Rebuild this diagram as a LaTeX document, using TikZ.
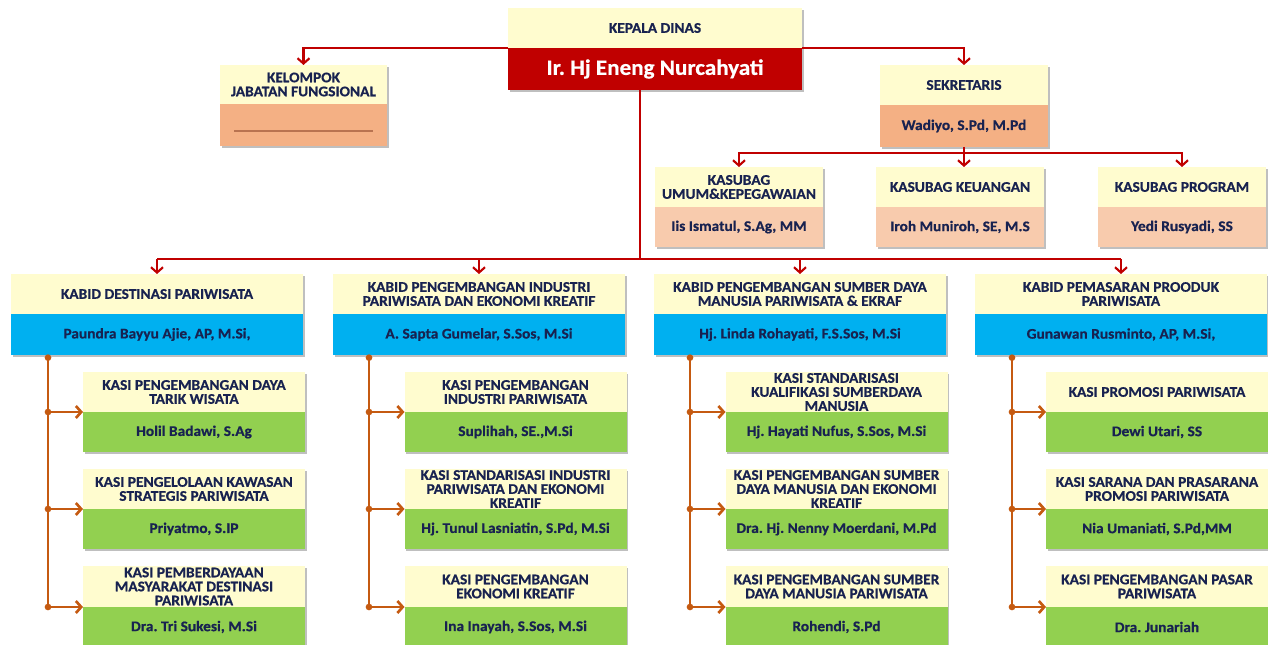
\documentclass[tikz,border=0pt]{standalone}
\usepackage{fontspec}
\newfontfamily\cf{Carlito}[UprightFont=* Bold, BoldFont=* Bold, FakeStretch=1.05, FakeBold=0.6]
\usetikzlibrary{arrows.meta,shadows}
\definecolor{ylw}{RGB}{255,252,207}
\definecolor{dred}{RGB}{192,0,0}
\definecolor{salm}{RGB}{244,176,132}
\definecolor{lsalm}{RGB}{248,203,173}
\definecolor{sky}{RGB}{0,176,240}
\definecolor{grn}{RGB}{146,208,80}
\definecolor{orng}{RGB}{197,90,17}
\definecolor{navy}{RGB}{24,34,80}
\definecolor{kline}{RGB}{185,115,80}
\frenchspacing
\begin{document}
\begin{tikzpicture}[x=0.75pt,y=-0.75pt,
  every node/.style={inner sep=0pt, outer sep=0pt, align=center, text=navy,
    font=\cf\fontsize{11}{10.5}\selectfont},
  bw/.style={minimum width=#1*0.75pt},
  bh/.style={minimum height=#1*0.75pt},
  shad/.style={drop shadow={shadow xshift=1.2pt, shadow yshift=-1.2pt, opacity=0.25, fill=black}},
  tbox/.style={rectangle, fill=ylw, shad},
  pbox/.style={rectangle, shad},
  redline/.style={draw=dred, line width=1.6pt},
  redarr/.style={redline, -{Straight Barb[length=4pt,width=9pt]}},
  orline/.style={draw=orng, line width=2pt},
  orarr/.style={orline, -{Straight Barb[length=4pt,width=9pt]}},
  dot/.style={circle, fill=orng, minimum size=5pt}
]
\path[use as bounding box] (0,0) rectangle (1268,645);

% Kepala Dinas
\node[tbox, bw=294, bh=40] (kdt) at (655,28) {KEPALA DINAS};
\node[pbox, fill=dred, bw=294, bh=42, text=white, font=\cf\fontsize{16.5}{18}\selectfont] (kdn) at (655,69) {Ir. Hj Eneng Nurcahyati};

% Kelompok jabatan fungsional
\node[tbox, bw=167, bh=39] (kjt) at (303.5,84.5) {KELOMPOK\\JABATAN FUNGSIONAL};
\node[pbox, fill=salm, bw=167, bh=42] (kjn) at (303.5,125) {};
\draw[kline, line width=1pt] ([xshift=-52pt,yshift=-4.5pt]kjn.center) -- ([xshift=52pt,yshift=-4.5pt]kjn.center);

% Sekretaris
\node[tbox, bw=168, bh=40] (sekt) at (964,85) {SEKRETARIS};
\node[pbox, fill=salm, bw=168, bh=42] (sekn) at (964,126) {Wadiyo, S.Pd, M.Pd};

% Kasubag
\node[tbox, bw=168, bh=40] (kst1) at (739,187) {KASUBAG\\UMUM\&KEPEGAWAIAN};
\node[pbox, fill=lsalm, bw=168, bh=40] (ksn1) at (739,227) {Iis Ismatul, S.Ag, MM};
\node[tbox, bw=168, bh=40] (kst2) at (960,187) {KASUBAG KEUANGAN};
\node[pbox, fill=lsalm, bw=168, bh=40] (ksn2) at (960,227) {Iroh Muniroh, SE, M.S};
\node[tbox, bw=168, bh=40] (kst3) at (1182,187) {KASUBAG PROGRAM};
\node[pbox, fill=lsalm, bw=168, bh=40] (ksn3) at (1182,227) {Yedi Rusyadi, SS};

% Kabid
\node[tbox, bw=292, bh=40] (kbt1) at (157,294) {KABID DESTINASI PARIWISATA};
\node[pbox, fill=sky, bw=292, bh=41] (kbn1) at (157,334.5) {Paundra Bayyu Ajie, AP, M.Si,};
\node[tbox, bw=292, bh=40] (kbt2) at (479,294) {KABID PENGEMBANGAN INDUSTRI\\PARIWISATA DAN EKONOMI KREATIF};
\node[pbox, fill=sky, bw=292, bh=41] (kbn2) at (479,334.5) {A. Sapta Gumelar, S.Sos, M.Si};
\node[tbox, bw=292, bh=40] (kbt3) at (800,294) {KABID PENGEMBANGAN SUMBER DAYA\\MANUSIA PARIWISATA \& EKRAF};
\node[pbox, fill=sky, bw=292, bh=41] (kbn3) at (800,334.5) {Hj. Linda Rohayati, F.S.Sos, M.Si};
\node[tbox, bw=292, bh=40] (kbt4) at (1121,294) {KABID PEMASARAN PROODUK\\PARIWISATA};
\node[pbox, fill=sky, bw=292, bh=41] (kbn4) at (1121,334.5) {Gunawan Rusminto, AP, M.Si,};

% Kasi column 1
\node[tbox, bw=222, bh=40] (k11t) at (194,392) {KASI PENGEMBANGAN DAYA\\TARIK WISATA};
\node[pbox, fill=grn, bw=222, bh=40] (k11n) at (194,432) {Holil Badawi, S.Ag};
\node[tbox, bw=222, bh=40] (k12t) at (194,489) {KASI PENGELOLAAN KAWASAN\\STRATEGIS PARIWISATA};
\node[pbox, fill=grn, bw=222, bh=40] (k12n) at (194,529) {Priyatmo, S.IP};
\node[tbox, bw=222, bh=41] (k13t) at (194,586.5) {KASI PEMBERDAYAAN\\MASYARAKAT DESTINASI\\PARIWISATA};
\node[pbox, fill=grn, bw=222, bh=40] (k13n) at (194,627) {Dra. Tri Sukesi, M.Si};

% Kasi column 2
\node[tbox, bw=222, bh=40] (k21t) at (515.5,392) {KASI PENGEMBANGAN\\INDUSTRI PARIWISATA};
\node[pbox, fill=grn, bw=222, bh=40] (k21n) at (515.5,432) {Suplihah, SE.,M.Si};
\node[tbox, bw=222, bh=40] (k22t) at (515.5,489) {KASI STANDARISASI INDUSTRI\\PARIWISATA DAN EKONOMI\\KREATIF};
\node[pbox, fill=grn, bw=222, bh=40] (k22n) at (515.5,529) {Hj. Tunul Lasniatin, S.Pd, M.Si};
\node[tbox, bw=222, bh=41] (k23t) at (515.5,586.5) {KASI PENGEMBANGAN\\EKONOMI KREATIF};
\node[pbox, fill=grn, bw=222, bh=40] (k23n) at (515.5,627) {Ina Inayah, S.Sos, M.Si};

% Kasi column 3
\node[tbox, bw=222, bh=40] (k31t) at (836.5,392) {KASI STANDARISASI\\KUALIFIKASI SUMBERDAYA\\MANUSIA};
\node[pbox, fill=grn, bw=222, bh=40] (k31n) at (836.5,432) {Hj. Hayati Nufus, S.Sos, M.Si};
\node[tbox, bw=222, bh=40] (k32t) at (836.5,489) {KASI PENGEMBANGAN SUMBER\\DAYA MANUSIA DAN EKONOMI\\KREATIF};
\node[pbox, fill=grn, bw=222, bh=40] (k32n) at (836.5,529) {Dra. Hj. Nenny Moerdani, M.Pd};
\node[tbox, bw=222, bh=41] (k33t) at (836.5,586.5) {KASI PENGEMBANGAN SUMBER\\DAYA MANUSIA PARIWISATA};
\node[pbox, fill=grn, bw=222, bh=40] (k33n) at (836.5,627) {Rohendi, S.Pd};

% Kasi column 4
\node[tbox, bw=222, bh=40] (k41t) at (1157,392) {KASI PROMOSI PARIWISATA};
\node[pbox, fill=grn, bw=222, bh=40] (k41n) at (1157,432) {Dewi Utari, SS};
\node[tbox, bw=222, bh=40] (k42t) at (1157,489) {KASI SARANA DAN PRASARANA\\PROMOSI PARIWISATA};
\node[pbox, fill=grn, bw=222, bh=40] (k42n) at (1157,529) {Nia Umaniati, S.Pd,MM};
\node[tbox, bw=222, bh=41] (k43t) at (1157,586.5) {KASI PENGEMBANGAN PASAR\\PARIWISATA};
\node[pbox, fill=grn, bw=222, bh=40] (k43n) at (1157,627) {Dra. Junariah};

% Red connectors
\draw[redarr] (kdn.north west) -| (kjt.north);
\draw[redarr] (kdn.north east) -| (sekt.north);
\coordinate (vk) at (640,259);
\draw[redline] (kdn.south -| vk) -- (vk);
\draw[redline] (kbt1.north |- vk) -- (kbt4.north |- vk);
\foreach \i in {1,...,4} \draw[redarr] (kbt\i.north |- vk) -- (kbt\i.north);
\coordinate (sj) at (964,153);
\draw[redline] (sekn.south) -- (sj);
\draw[redarr] (sj) -| (kst1.north);
\draw[redarr] (sj) -| (kst3.north);
\draw[redarr] (sj) -- (sj |- kst2.north);

% Orange connectors
\coordinate (o1) at (48,355);
\coordinate (o2) at (369,355);
\coordinate (o3) at (690,355);
\coordinate (o4) at (1012,355);
\foreach \c in {1,...,4}{
  \draw[orline] (o\c) -- (k\c3t.south west -| o\c);
  \node[dot] (dt\c) at ([yshift=-2pt]o\c) {};
  \foreach \r in {1,2,3}{
    \draw[orarr] (k\c\r t.south west -| o\c) -- (k\c\r t.south west);
    \node[dot] (d\c\r) at (k\c\r t.south west -| o\c) {};
  }
}
\end{tikzpicture}
\end{document}
